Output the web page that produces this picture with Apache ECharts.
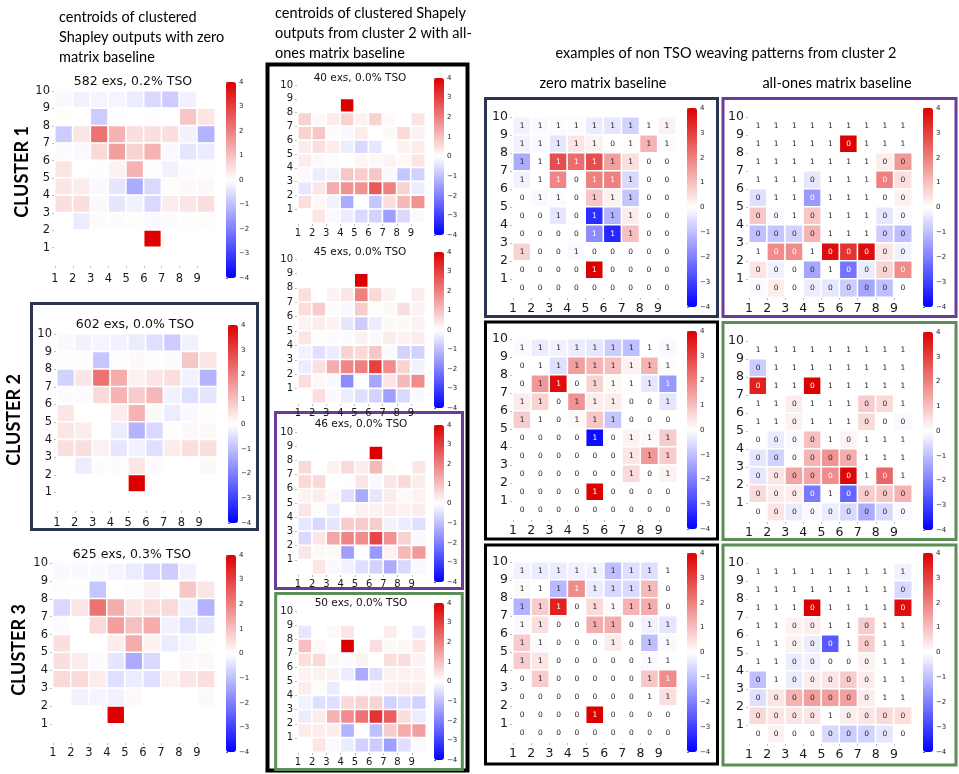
<!DOCTYPE html>
<html>
<head>
<meta charset="utf-8">
<script src="https://cdn.jsdelivr.net/npm/echarts@6/dist/echarts.min.js"></script>
<style>
  html, body { margin: 0; padding: 0; background: #ffffff; }
  #chart { width: 959px; height: 774px; }
</style>
</head>
<body>
<div id="chart"></div>
<script>
// ---- tick labels ----
const xTickLabels = ['1', '2', '3', '4', '5', '6', '7', '8', '9'];
const yTickLabels = ['1', '2', '3', '4', '5', '6', '7', '8', '9', '10'];
const colorTicks = [-4, -3, -2, -1, 0, 1, 2, 3, 4];

// ---- centroid Shapley maps, rows listed from 10 (top) down to 1 ----
const cluster1 = [
  [-0.1, -0.2, -0.15, -0.15, -0.3, -0.6, -0.8, -0.2, 0],
  [0.05, 0, -0.8, 0.02, 0, 0.02, 0, 0.9, 0.4],
  [-0.8, 0.4, 2.2, 1.2, 0.5, 0.5, 0.5, -0.2, -1.2],
  [-0.05, -0.1, 0.6, 1.5, 0.7, 1.2, -0.1, -0.4, -0.3],
  [0.4, 0, -0.02, 0.2, 1.2, 0.05, -0.2, -0.05, 0.05],
  [0.4, 0.3, -0.1, -0.4, -1.3, -0.6, 0.05, 0.1, 0.1],
  [0.5, 0.5, 0.1, -0.4, -0.2, -0.6, 0.3, 0.4, 0.5],
  [0, -0.3, -0.05, -0.05, 0.05, -0.1, -0.05, 0.02, 0.05],
  [0, 0, 0, 0, 0, 4, 0, 0, 0],
  [0, 0, 0, 0, 0, 0, 0, 0, 0]
];
const cluster2 = [
  [-0.1, -0.2, -0.15, -0.2, -0.3, -0.5, -0.8, -0.2, 0],
  [0.05, -0.02, -0.9, 0.05, 0.1, 0.02, -0.05, 0.9, 0.4],
  [-0.7, 0.4, 2.2, 1.3, 0.2, 0.4, 0.5, -0.2, -1.2],
  [-0.05, -0.05, 0.6, 1.2, 0.8, 1.1, -0.2, -0.5, -0.4],
  [0.4, 0, 0, 0.3, 1.2, 0.1, -0.3, -0.1, 0.05],
  [0.4, 0.3, 0, -0.3, -1.2, -0.6, 0.05, 0.1, 0.1],
  [0.5, 0.5, 0.2, -0.4, -0.2, -0.5, 0.3, 0.5, 0.5],
  [0, -0.3, -0.05, -0.05, 0.4, -0.05, 0, 0, 0.1],
  [0, 0, 0, 0, 4, 0, 0, 0, 0],
  [0, 0, 0, 0, 0, 0, 0, 0, 0]
];
const cluster3 = [
  [-0.1, -0.1, -0.1, -0.15, -0.3, -0.6, -0.8, -0.2, 0],
  [0.05, -0.02, -0.9, 0, 0.05, 0.2, 0.05, 0.9, 0.4],
  [-0.6, 0.4, 2.2, 1.3, 0.4, 0.5, 0.6, -0.2, -1.2],
  [-0.05, 0, 0.6, 1.5, 1.0, 1.3, -0.2, -0.5, -0.4],
  [0.5, 0, 0, 0.3, 1.3, 0.2, -0.3, -0.15, 0.05],
  [0.5, 0.3, -0.05, -0.4, -1.3, -0.6, 0, 0.1, 0.1],
  [0.6, 0.6, 0.3, -0.5, -0.3, -0.5, 0.2, 0.4, 0.5],
  [0, -0.2, -0.15, -0.2, 0.1, 0, 0, 0, 0.1],
  [0, 0, 0, 4, 0, 0, 0, 0, 0],
  [0, 0, 0, 0, 0, 0, 0, 0, 0]
];
const sub40 = [
  [0, 0, 0, 0, 0, 0, 0, 0, 0],
  [0, 0, 0, 4, 0, 0, 0, 0, 0],
  [0.7, 0.1, 0.3, 0.7, 0.2, 0.7, 0.1, 0, 0.4],
  [0.7, 0.9, -0.05, -0.1, 0.3, 0, 0.1, 0.6, 0.2],
  [0.3, 0.5, 0.3, -0.3, -0.6, -0.4, 0, 0.2, 0.3],
  [0.3, 0.1, -0.05, 0, 0.15, 0.1, 0.2, 0.1, 0.4],
  [-0.1, -0.3, -0.2, 0.9, 0.8, 0.9, -0.1, -0.9, -0.7],
  [-0.4, 0.4, 1.3, 1.7, 1.7, 2.6, 2.0, 0.7, -0.3],
  [0.5, 0.1, -0.2, -1.3, 0, -0.9, 0.5, 1.1, 1.7],
  [0, 0.4, -0.1, -0.3, -0.6, -0.7, -1.5, -0.6, -0.1]
];
const sub45 = [
  [0, 0, 0, 0, 0, 0, 0, 0, 0],
  [0, 0, 0, 0, 4, 0, 0, 0, 0],
  [0.5, 0, 0.2, 0.4, 2.0, 0.6, 0.2, 0, 0.3],
  [0.5, 0.8, -0.05, -0.1, 0.8, 0.05, 0.1, 0.5, 0.2],
  [0.2, 0.3, 0.2, -0.4, -0.8, -0.3, 0.1, 0.1, 0.2],
  [0.4, 0.05, -0.05, -0.05, 0.2, 0.1, 0.3, 0.2, 0.3],
  [-0.2, -0.5, -0.3, 0.7, 0.6, 0.9, -0.1, -0.7, -0.7],
  [-0.3, 0.5, 1.3, 1.9, 2.0, 3.0, 1.8, 0.7, -0.2],
  [0.5, 0.1, -0.1, -1.8, 0, -1.4, 0.4, 1.1, 1.8],
  [0, 0.5, -0.1, -0.3, -0.5, -0.7, -1.5, -0.6, -0.1]
];
const sub46 = [
  [0, 0, 0, 0, 0, 0, 0, 0, 0],
  [0, 0, 0, 0, 0, 4, 0, 0, 0],
  [0.6, 0, 0.2, 0.6, 0.3, 1.1, 0.05, 0, 0.4],
  [0.6, 0.6, 0, -0.02, 0.4, -0.1, 0.4, 0.6, 0.3],
  [0.2, 0.3, 0.1, -0.5, -1.3, -0.4, 0.3, 0.1, 0.2],
  [0.4, 0.05, -0.3, 0, 0.2, 0.2, 0.3, 0.2, 0.3],
  [-0.4, -0.6, -0.4, 0.8, 0.8, 0.8, -0.2, -0.3, -0.5],
  [-0.6, 0.4, 1.4, 1.9, 1.8, 2.9, 1.7, 0.7, -0.1],
  [0.4, 0.1, 0.1, -1.5, 0, -1.6, 0.2, 1.1, 1.6],
  [0, 0.4, -0.1, -0.2, -0.5, -0.7, -1.3, -0.6, -0.1]
];
const sub50 = [
  [0, 0, 0, 0, 0, 0, 0, 0, 0],
  [-0.4, 0, 0.1, 0.4, 0, 0, 0.3, 0, -0.3],
  [1.0, 0.1, 0, 4, 0, 0.5, 0.1, 0.1, 0.4],
  [0.5, 0.6, 0.1, -0.05, 0.2, 0, 0.5, 0.5, 0.2],
  [0.2, 0.2, 0.2, -0.3, -1.3, -0.5, 0.2, 0.2, 0.2],
  [0.3, 0.05, -0.3, 0, 0.05, 0.1, 0.2, 0.3, 0.3],
  [-0.2, -0.5, -0.5, 0.6, 0.7, 0.7, -0.7, -0.5, -0.7],
  [-0.3, 0.3, 1.2, 1.8, 2.2, 3.2, 2.5, 0.5, -0.3],
  [0.3, 0.3, 0.3, -1.2, 0, -1.0, 0.8, 1.3, 1.5],
  [0, 0.4, -0.1, -0.3, -0.7, -0.8, -1.5, -0.5, -0.1]
];

// ---- weave patterns (0/1) of the three example samples ----
const weaveA = [
  [1, 1, 1, 1, 1, 1, 1, 1, 1],
  [1, 1, 1, 1, 1, 0, 1, 1, 1],
  [1, 1, 1, 1, 1, 1, 1, 0, 0],
  [1, 1, 1, 0, 1, 1, 1, 0, 0],
  [0, 1, 1, 0, 1, 1, 1, 0, 0],
  [0, 0, 1, 0, 1, 1, 1, 0, 0],
  [0, 0, 0, 0, 1, 1, 1, 0, 0],
  [1, 0, 0, 1, 0, 0, 0, 0, 0],
  [0, 0, 0, 0, 1, 0, 0, 0, 0],
  [0, 0, 0, 0, 0, 0, 0, 0, 0]
];
const weaveB = [
  [1, 1, 1, 1, 1, 1, 1, 1, 1],
  [0, 1, 1, 1, 1, 1, 1, 1, 1],
  [0, 1, 1, 0, 1, 1, 1, 1, 1],
  [1, 1, 0, 1, 1, 1, 0, 0, 1],
  [1, 1, 0, 1, 1, 1, 0, 0, 0],
  [0, 0, 0, 0, 1, 0, 1, 1, 1],
  [0, 0, 0, 0, 0, 0, 1, 1, 1],
  [0, 0, 0, 0, 0, 0, 1, 0, 1],
  [0, 0, 0, 0, 1, 0, 0, 0, 0],
  [0, 0, 0, 0, 0, 0, 0, 0, 0]
];
const weaveC = [
  [1, 1, 1, 1, 1, 1, 1, 1, 1],
  [1, 1, 1, 1, 1, 1, 1, 1, 0],
  [1, 1, 1, 0, 1, 1, 1, 1, 0],
  [1, 1, 0, 0, 1, 1, 0, 1, 1],
  [1, 1, 0, 0, 0, 1, 0, 1, 1],
  [1, 1, 0, 0, 0, 0, 0, 1, 1],
  [0, 1, 0, 0, 0, 0, 0, 1, 1],
  [0, 0, 0, 0, 0, 0, 0, 1, 1],
  [0, 0, 0, 0, 1, 0, 0, 0, 0],
  [0, 0, 0, 0, 0, 0, 0, 0, 0]
];

// ---- Shapley maps of the example samples ----
const zeroA = [
  [-0.2, -0.1, -0.05, -0.05, -0.3, -0.4, -0.7, 0, 0.2],
  [-0.2, -0.1, -0.4, 0.4, 0.2, 0, 0.05, 1.2, -0.05],
  [-1.3, 0, 2.8, 2.3, 2.8, 1.5, 0.5, 0, 0],
  [-0.2, 0, 1.9, 0, 2.0, 2.0, -0.6, 0, 0],
  [0, -0.1, -0.05, 0, 0.9, 0.2, -0.9, 0, 0],
  [0, 0, -0.4, 0, -3.3, -1.2, 0.3, 0, 0],
  [0, 0, 0, 0, -1.8, -3.4, 1.0, 0, 0],
  [0.7, 0, 0, -0.1, 0, 0, 0, 0, 0],
  [0, 0, 0, 0, 4, 0, 0, 0, 0],
  [0, 0, 0, 0, 0, 0, 0, 0, 0]
];
const onesA = [
  [0, 0, 0, 0, 0, 0, 0, 0, 0],
  [0, 0, 0, 0, 0, 4, 0, 0, 0],
  [0, 0, 0, 0, 0, 0, 0, 0.3, 1.6],
  [0, 0, 0, -0.4, 0, 0, 0, 2.0, 0.5],
  [-0.5, 0, 0, -1.6, 0, 0, 0, 0, 0.2],
  [0.9, -0.1, 0, 0.9, 0, 0, 0, -0.4, -0.1],
  [-1.0, -0.9, -0.7, 1.2, 0, 0, 0, -0.8, -1.0],
  [0, 1.8, 1.8, 0, 3.8, 3.2, 3.8, 0.4, -0.2],
  [0.4, -0.2, 0, -1.4, 0, -2.2, -0.3, 0.7, 1.8],
  [-0.1, 0.3, 0, -0.3, -0.4, -0.8, -1.4, -1.0, 0]
];
const zeroB = [
  [-0.1, -0.3, -0.2, -0.3, -0.4, -0.8, -1.0, 0, -0.1],
  [0, 0, -0.5, 1.5, 1.2, 1.0, 0.2, 1.2, 0.05],
  [0, 1.6, 3.8, 0, 0.7, 0.1, 0, -0.4, -1.6],
  [0.3, 0.7, 0, 1.7, 0.3, 0.3, 0, 0, -0.4],
  [0.8, 0, 0, 0.1, 0.9, -0.9, 0, 0, 0],
  [0, 0, 0, 0, -3.8, 0, 0.2, 0.1, 0.8],
  [0, 0, 0, 0, 0, 0, 0.4, 1.6, 0.8],
  [0, 0, 0, 0, 0, 0, 0.6, 0, 0.2],
  [0, 0, 0, 0, 4, 0, 0, 0, 0],
  [0, 0, 0, 0, 0, 0, 0, 0, 0]
];
const onesB = [
  [0, 0, 0, 0, 0, 0, 0, 0, 0],
  [-0.8, 0, 0, 0, 0, 0, 0, 0, 0],
  [3.5, 0, 0, 4, 0, 0, 0, 0, 0],
  [0, 0, 0.3, 0, 0, 0, 0.8, 0.6, 0],
  [0, 0, 0.2, 0, 0, 0, 0.6, 0, -0.1],
  [0, -0.3, -0.1, 1.0, 0, 0.2, 0, 0, 0],
  [-0.4, -0.7, 0.05, 1.2, 1.7, 1.3, 0, 0, 0],
  [-0.4, 0.4, 1.4, 1.4, 1.8, 3.9, 0, 2.4, 0],
  [0.6, 0.3, 0.3, -2.1, 0, -2.4, 0.8, 0.9, 1.2],
  [0, 0.4, -0.3, -0.1, -0.3, -0.6, -1.3, -0.6, -0.1]
];
const zeroC = [
  [-0.2, -0.3, -0.3, -0.2, -0.2, -1.0, -0.5, -0.5, 0],
  [0.1, 0, -1.1, 1.8, -0.3, -0.6, -0.6, 1.1, 0],
  [-1.2, 0.8, 3.5, 0, 0.6, 0.1, 1.2, 1.3, 0],
  [-0.1, 0.5, 0, 0, 1.3, 1.3, 0, -0.2, -0.4],
  [0.8, -0.05, 0, 0, 0, 0.3, 0, -1.0, -0.1],
  [0.8, 0.4, 0, 0, 0, 0, 0, -0.1, 0],
  [0, 0.8, 0, 0, 0, 0, 0, 0.9, 1.8],
  [0, 0, 0, 0, 0, 0, 0, 0, 0.5],
  [0, 0, 0, 0, 4, 0, 0, 0, 0],
  [0, 0, 0, 0, 0, 0, 0, 0, 0]
];
const onesC = [
  [0, 0, 0, 0, 0, 0, 0, 0, -0.2],
  [0, 0, 0, 0, 0, 0, 0, 0, -0.6],
  [0, 0, 0, 4, 0, 0, 0, 0, 3.8],
  [0, 0, 0.2, 0.3, 0, 0, 0.8, 0, 0],
  [0, 0, 0.2, -0.3, -2.6, 0, 0.8, 0, 0],
  [0, 0, -0.3, -0.2, 0, 0, 0.2, 0, 0],
  [-1.0, 0, -0.3, 0.3, 0.4, 0.8, 0.3, 0, 0],
  [-0.5, 0.4, 1.2, 1.5, 1.5, 1.5, 0.3, 0, 0],
  [0.6, 0.4, 0.4, 0.4, 0, 0.3, 0.4, 0.6, 0.5],
  [0, 0.2, 0, 0, -0.6, -0.8, -0.7, -0.4, 0]
];

// ---- panel titles ----
const clusterTitles = ['582 exs, 0.2% TSO', '602 exs, 0.0% TSO', '625 exs, 0.3% TSO'];
const subTitles = ['40 exs, 0.0% TSO', '45 exs, 0.0% TSO', '46 exs, 0.0% TSO', '50 exs, 0.0% TSO'];

// ---- colour scale ----
const cmapStops = ['#0000ff', '#ffffff', '#dd0000'];
const vMin = -4, vMax = 4;

function hexRgb(h) {
  return [1, 3, 5].map(i => parseInt(h.substr(i, 2), 16) / 255);
}
function colorAt(v) {
  const t = (Math.max(vMin, Math.min(vMax, v)) - vMin) / (vMax - vMin);
  const a = t < 0.5 ? hexRgb(cmapStops[0]) : hexRgb(cmapStops[1]);
  const b = t < 0.5 ? hexRgb(cmapStops[1]) : hexRgb(cmapStops[2]);
  const f = t < 0.5 ? t * 2 : (t - 0.5) * 2;
  return a.map((c, i) => c + (b[i] - c) * f);
}
function luminance(rgb) {
  const lin = rgb.map(c => c <= 0.03928 ? c / 12.92 : Math.pow((c + 0.055) / 1.055, 2.4));
  return 0.2126 * lin[0] + 0.7152 * lin[1] + 0.0722 * lin[2];
}
function fmtMinus(v) { return v < 0 ? '\u2212' + Math.abs(v) : String(v); }

// ---- panel placement ----
const panels = [
  { values: cluster1, title: clusterTitles[0], g: [55, 91, 160, 174], cb: [226, 82, 196], tfs: 12.5, lfs: 11.5, xm: 8, ty: 82, tx: 133 },
  { values: cluster2, title: clusterTitles[1], g: [57, 334, 160, 176], cb: [228, 325, 198], tfs: 12.5, lfs: 11.5, xm: 7, ty: 325, tx: 135 },
  { values: cluster3, title: clusterTitles[2], g: [53, 563, 162, 179], cb: [226, 555, 197], tfs: 12.5, lfs: 11.5, xm: 5, ty: 555, tx: 132 },
  { values: sub40, title: subTitles[0], g: [298, 85, 127, 138], cb: [434, 78, 157], tfs: 10.5, lfs: 10, xm: 5, ty: 78, tx: 360 },
  { values: sub45, title: subTitles[1], g: [298, 259, 127, 144], cb: [434, 252, 156], tfs: 10.5, lfs: 10, xm: 5, ty: 252, tx: 360 },
  { values: sub46, title: subTitles[2], g: [298, 432, 128, 142], cb: [434, 425, 157], tfs: 10.5, lfs: 10, xm: 5, ty: 424, tx: 361 },
  { values: sub50, title: subTitles[3], g: [298, 611, 128, 141], cb: [434, 603, 157], tfs: 10.5, lfs: 10, xm: 5, ty: 603, tx: 361 },
  { values: zeroA, weave: weaveA, g: [513, 117, 163, 180], cb: [687, 108, 199], lfs: 12.5, xm: 5 },
  { values: onesA, weave: weaveA, g: [749, 117, 163, 180], cb: [923, 108, 199], lfs: 12.5, xm: 5 },
  { values: zeroB, weave: weaveB, g: [513, 339, 164, 180], cb: [687, 331, 198], lfs: 12.5, xm: 5 },
  { values: onesB, weave: weaveB, g: [749, 341, 163, 180], cb: [923, 332, 198], lfs: 12.5, xm: 5 },
  { values: zeroC, weave: weaveC, g: [513, 562, 164, 180], cb: [687, 553, 199], lfs: 12.5, xm: 5 },
  { values: onesC, weave: weaveC, g: [749, 563, 163, 180], cb: [923, 553, 199], lfs: 12.5, xm: 5 }
];

const grid = [], xAxis = [], yAxis = [], series = [], visualMap = [], graphic = [];
const tickFont = 'DejaVu Sans';
const headFont = 'Lato';

panels.forEach(p => {
  const gi = grid.length;
  grid.push({ left: p.g[0], top: p.g[1], width: p.g[2], height: p.g[3] });
  // category axes that place the cells
  xAxis.push({ type: 'category', gridIndex: gi, data: xTickLabels, show: false });
  const xc = xAxis.length - 1;
  yAxis.push({ type: 'category', gridIndex: gi, data: yTickLabels, show: false });
  const yc = yAxis.length - 1;
  // value axes carrying the edge-aligned tick labels
  xAxis.push({
    type: 'value', gridIndex: gi, min: 0, max: 9, interval: 1, position: 'bottom',
    axisLine: { show: false }, splitLine: { show: false },
    axisTick: { show: true, length: 3, lineStyle: { color: '#aaaaaa', width: 0.8 }, customValues: [0, 1, 2, 3, 4, 5, 6, 7, 8] },
    axisLabel: { customValues: [0, 1, 2, 3, 4, 5, 6, 7, 8], formatter: v => xTickLabels[v] || '', fontFamily: tickFont, fontSize: p.lfs, color: '#1a1a1a', margin: p.xm }
  });
  yAxis.push({
    type: 'value', gridIndex: gi, min: 0, max: 10, interval: 1, position: 'left',
    axisLine: { show: false }, splitLine: { show: false },
    axisTick: { show: true, length: 3, lineStyle: { color: '#aaaaaa', width: 0.8 }, customValues: [1, 2, 3, 4, 5, 6, 7, 8, 9, 10] },
    axisLabel: { customValues: [1, 2, 3, 4, 5, 6, 7, 8, 9, 10], formatter: v => yTickLabels[v - 1] || '', fontFamily: tickFont, fontSize: p.lfs, color: '#1a1a1a', margin: 5 }
  });

  const data = [];
  p.values.forEach((row, ri) => {
    row.forEach((v, ci) => {
      const item = { value: [ci, 9 - ri, v] };
      if (p.weave) {
        item.label = { color: luminance(colorAt(v)) < 0.408 ? '#ffffff' : '#262626' };
      }
      data.push(item);
    });
  });
  const weave = p.weave;
  series.push({
    type: 'heatmap', xAxisIndex: xc, yAxisIndex: yc, data: data,
    itemStyle: { borderColor: '#ffffff', borderWidth: 1.6 },
    label: weave ? {
      show: true, fontFamily: tickFont, fontSize: 7.5,
      formatter: prm => String(weave[9 - prm.value[1]][prm.value[0]])
    } : { show: false },
    emphasis: { disabled: true }
  });

  // colour bar
  visualMap.push({
    type: 'continuous', seriesIndex: series.length - 1, min: vMin, max: vMax,
    inRange: { color: cmapStops }, calculable: false, hoverLink: false,
    left: p.cb[0], top: p.cb[1], itemWidth: 10, itemHeight: p.cb[2], padding: 0,
    text: null, showLabel: false
  });
  const cg = grid.length;
  grid.push({ left: p.cb[0], top: p.cb[1], width: 10, height: p.cb[2] });
  xAxis.push({ type: 'value', gridIndex: cg, min: 0, max: 1, show: false });
  yAxis.push({
    type: 'value', gridIndex: cg, min: vMin, max: vMax, interval: 1, position: 'right',
    axisLine: { show: false }, splitLine: { show: false },
    axisTick: { show: true, length: 2, lineStyle: { color: '#333', width: 0.7 } },
    axisLabel: { fontFamily: tickFont, fontSize: 7, color: '#222', margin: 3, formatter: v => fmtMinus(v) }
  });

  if (p.title) {
    graphic.push({
      type: 'text', x: p.tx, y: p.ty,
      style: { text: p.title, font: p.tfs + 'px "' + tickFont + '"', fill: '#111', align: 'center', verticalAlign: 'middle' }
    });
  }
});

// headings
function heading(text, x, y, size, align, weight) {
  graphic.push({
    type: 'text', x: x, y: y,
    style: { text: text, font: (weight || 'normal') + ' ' + size + 'px "' + headFont + '"', fill: '#000', align: align || 'left', verticalAlign: 'middle' }
  });
}
heading('centroids of clustered', 59, 17, 14.5);
heading('Shapley outputs with zero', 59, 37, 14.5);
heading('matrix baseline', 59, 57, 14.5);
heading('centroids of clustered Shapely', 275, 13, 14.5);
heading('outputs from cluster 2 with all-', 275, 33, 14.5);
heading('ones matrix baseline', 275, 53, 14.5);
heading('examples of non TSO weaving patterns from cluster 2', 726, 53, 14.5, 'center');
heading('zero matrix baseline', 603, 83, 14.5, 'center');
heading('all-ones matrix baseline', 837, 83, 14.5, 'center');

[['CLUSTER 1', 22, 172], ['CLUSTER 2', 14, 420], ['CLUSTER 3', 19, 650]].forEach(c => {
  graphic.push({
    type: 'text', x: c[1], y: c[2], rotation: Math.PI / 2,
    style: { text: c[0], font: 'bold 18px "' + headFont + '"', fill: '#000', align: 'center', verticalAlign: 'middle' }
  });
});

// frames around panel groups
function frame(x, y, w, h, color, lw) {
  graphic.push({
    type: 'rect', shape: { x: x, y: y, width: w, height: h },
    style: { fill: 'none', stroke: color, lineWidth: lw }
  });
}
const navy = '#2b3453', purple = '#6a3a9c', green = '#5a8f55', black = '#000000';
frame(31.5, 303.5, 226, 226, navy, 3);
frame(267.5, 64.5, 200, 706, black, 4);
frame(275.5, 412.5, 187, 176, purple, 3);
frame(275.7, 593.5, 186.6, 176, green, 3);
frame(485.5, 98.5, 232, 218, navy, 3);
frame(723, 98.5, 233, 218, purple, 3);
frame(485.5, 322, 232, 217, black, 3);
frame(723, 322.5, 233, 217, green, 3);
frame(485.5, 545, 232, 219, black, 3);
frame(723, 545, 233, 220, green, 3);

const chart = echarts.init(document.getElementById('chart'), null, { renderer: 'canvas' });
chart.setOption({
  animation: false,
  backgroundColor: '#ffffff',
  grid: grid, xAxis: xAxis, yAxis: yAxis,
  visualMap: visualMap, series: series, graphic: graphic
});
</script>
</body>
</html>
